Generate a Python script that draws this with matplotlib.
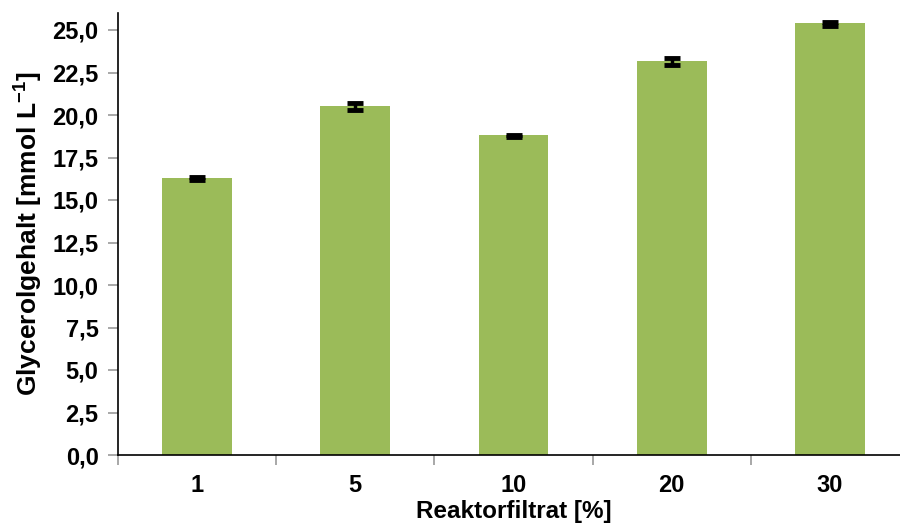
import matplotlib.pyplot as plt
from matplotlib.ticker import FuncFormatter

plt.rcParams['font.family'] = ['Liberation Sans', 'DejaVu Sans']
plt.rcParams['mathtext.fontset'] = 'custom'
plt.rcParams['mathtext.bf'] = 'Liberation Sans:bold'
plt.rcParams['mathtext.rm'] = 'Liberation Sans:bold'

categories = ['1', '5', '10', '20', '30']
glycerol = [16.25, 20.5, 18.75, 23.15, 25.35]
errors = [0.1, 0.2, 0.05, 0.2, 0.1]

fig = plt.figure(figsize=(9, 5.24), dpi=100)
ax = fig.add_axes([118 / 900, 69 / 524, 791 / 900, 442 / 524])

x = range(len(categories))
ax.bar(x, [g + 0.05 for g in glycerol], width=0.44, color='#9BBB59', zorder=2)
ax.errorbar(x, glycerol, yerr=errors, fmt='none', ecolor='black',
            elinewidth=2.5, capsize=6, capthick=3.5, zorder=3)

ax.set_xlim(-0.5, 4.5)
ax.set_ylim(0, 26)
ax.set_yticks([i * 2.5 for i in range(11)])
ax.yaxis.set_major_formatter(FuncFormatter(lambda v, p: f'{v:.1f}'.replace('.', ',')))

ax.set_xticks([i - 0.5 for i in range(6)], minor=True)
ax.set_xticks(list(x))
ax.set_xticklabels(categories)
ax.tick_params(axis='x', which='major', length=0, pad=14)
ax.tick_params(axis='x', which='minor', length=7, color='#999999', width=1.2)
ax.tick_params(axis='y', length=7, color='#999999', width=1.2, pad=7)

for lbl in ax.get_xticklabels() + ax.get_yticklabels():
    lbl.set_fontsize(17)
    lbl.set_fontweight('bold')

ax.spines['top'].set_visible(False)
ax.spines['right'].set_visible(False)
ax.spines['left'].set_linewidth(1.2)
ax.spines['bottom'].set_linewidth(1.2)

ax.set_ylabel('Glycerolgehalt [mmol L$^{\\mathbf{-1}}$]', fontsize=19, fontweight='bold', labelpad=6)
ax.set_xlabel('Reaktorfiltrat [%]', fontsize=17.5, fontweight='bold', labelpad=2)

fig.savefig('out.png', dpi=100)
